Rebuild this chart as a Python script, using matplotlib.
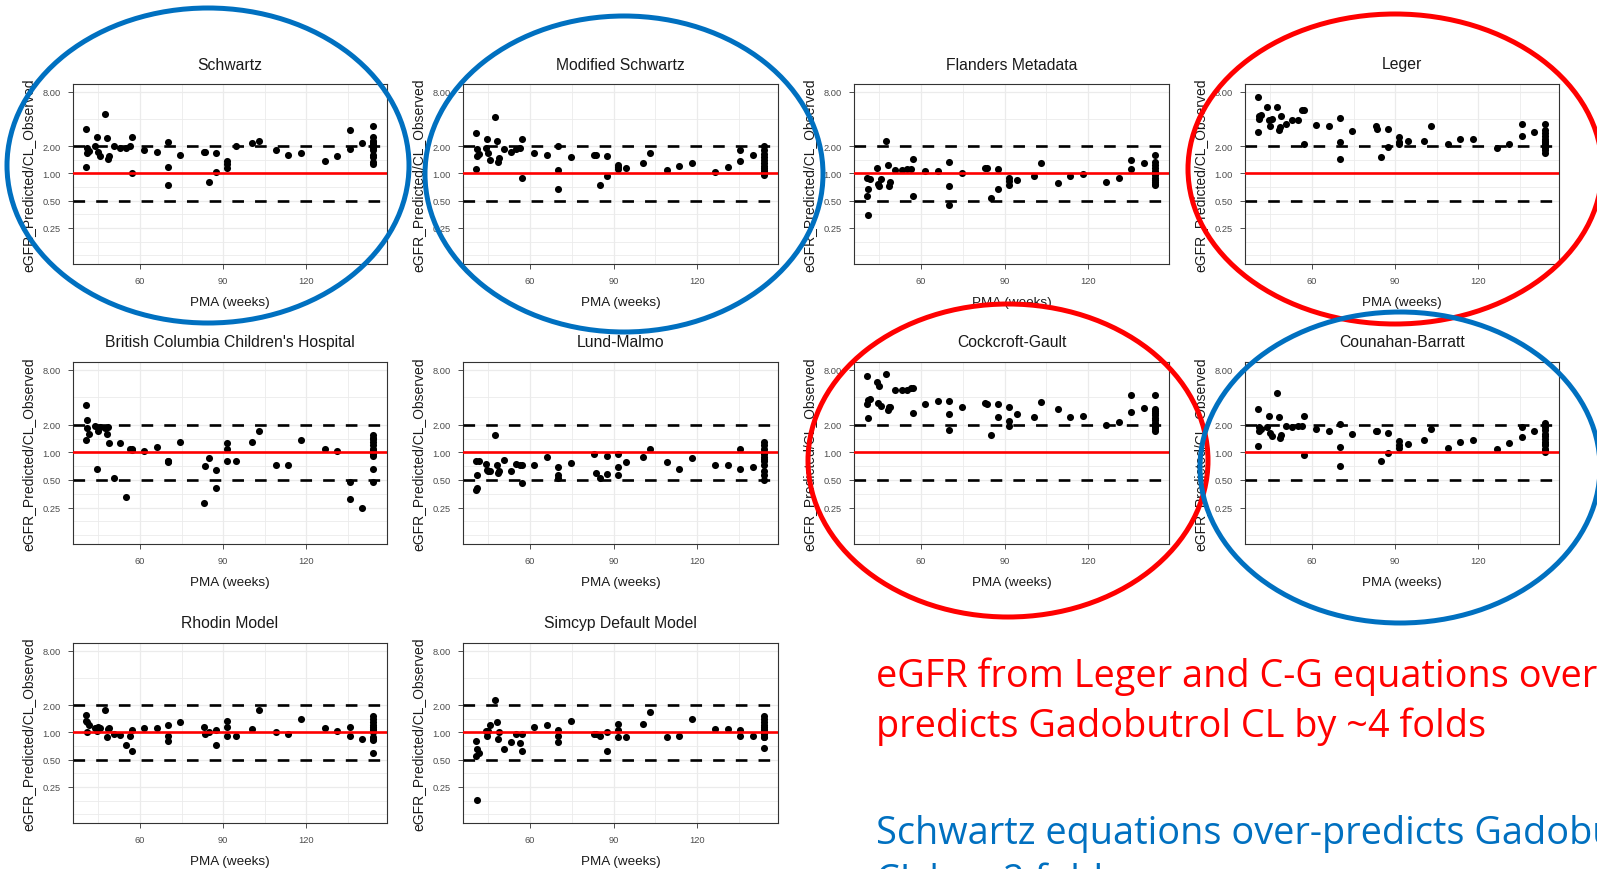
import matplotlib.pyplot as plt
from matplotlib.patches import Ellipse
from matplotlib.ticker import FixedLocator, NullFormatter

plt.rcParams['font.family'] = ['Liberation Sans', 'DejaVu Sans']

W, H = 1597, 870

# PMA (weeks) of each subject, shared by all panels
pma = [40.5, 40.5, 41, 41, 41.5,
       44, 44.5, 45, 45.5,
       47.5, 48, 48.5, 49, 50.5,
       53, 55, 56.5, 57, 57,
       61.5, 66, 70, 70, 70, 74.5,
       83, 83.5, 85, 87.5, 87.5,
       91.5, 91.5, 91.5, 94.5,
       100.5, 103, 109, 113.5, 118, 126.5, 131, 135.5, 135.5, 140,
       144, 144, 144, 144, 144, 144, 144, 144, 144, 144, 144, 144]

# eGFR_Predicted / CL_Observed, one list per equation
schwartz = [3.09, 1.19, 1.66, 1.93, 1.75, 2.02, 2.55, 1.71, 1.57,
            4.5, 2.45, 1.44, 1.57, 2.02, 1.9, 1.93, 2.02, 2.55, 1.0,
            1.8, 1.73, 2.2, 1.19, 0.75, 1.6,
            1.73, 1.73, 0.81, 1.66, 1.03, 1.38, 1.16, 1.27, 2.0,
            2.15, 2.3, 1.82, 1.6, 1.66, 1.38, 1.54, 3.05, 1.86, 2.15,
            3.3, 2.5, 2.3, 2.2, 2.1, 2.0, 1.9, 1.8, 1.6, 1.5, 1.35, 1.28]
modified_schwartz = [2.76, 1.12, 1.57, 1.86, 1.62, 1.9, 2.4, 1.66, 1.4,
                     4.15, 2.3, 1.35, 1.48, 1.86, 1.73, 1.88, 1.9, 2.4, 0.88,
                     1.66, 1.6, 2.0, 1.1, 0.67, 1.5,
                     1.6, 1.6, 0.75, 1.54, 0.94, 1.24, 1.12, 1.18, 1.16,
                     1.29, 1.68, 1.1, 1.22, 1.29, 1.03, 1.19, 1.8, 1.38, 1.6,
                     2.0, 1.8, 1.65, 1.5, 1.4, 1.3, 1.2, 1.15, 1.1, 1.05, 1.0, 0.97]
flanders = [0.88, 0.56, 0.35, 0.67, 0.87, 1.16, 0.76, 0.73, 0.87,
            2.3, 1.24, 0.73, 0.81, 1.09, 1.09, 1.12, 1.12, 1.44, 0.56,
            1.07, 1.07, 1.35, 0.73, 0.45, 1.01,
            1.16, 1.16, 0.53, 1.12, 0.67, 0.9, 0.75, 0.82, 0.85,
            0.94, 1.29, 0.78, 0.94, 0.98, 0.81, 0.9, 1.4, 1.12, 1.29,
            1.6, 1.35, 1.25, 1.15, 1.05, 1.0, 0.95, 0.9, 0.85, 0.8, 0.77, 0.74]
leger = [6.9, 2.84, 3.98, 4.25, 4.4, 5.4, 3.84, 3.3, 4.0,
         5.4, 3.0, 3.22, 4.3, 3.5, 3.9, 3.9, 5.0, 5.0, 2.1,
         3.45, 3.3, 4.05, 2.2, 1.44, 2.95,
         3.3, 3.08, 1.5, 3.1, 1.94, 2.55, 2.1, 2.2, 2.3,
         2.3, 3.36, 2.1, 2.4, 2.4, 1.9, 2.1, 3.5, 2.56, 2.88,
         3.5, 3.0, 2.8, 2.6, 2.4, 2.3, 2.2, 2.1, 2.0, 1.9, 1.8, 1.7]
bcch = [3.3, 1.36, 1.86, 2.23, 1.6, 1.94, 0.66, 1.71, 1.9,
        1.86, 1.6, 1.9, 1.27, 0.52, 1.27, 0.33, 1.09, 1.09, 1.05,
        1.03, 1.14, 0.81, 0.78, 0.8, 1.3,
        0.28, 0.71, 0.87, 0.65, 0.41, 1.27, 1.09, 0.8, 0.8,
        1.3, 1.71, 0.73, 0.73, 1.36, 1.1, 1.03, 0.47, 0.31, 0.25,
        1.55, 1.45, 1.4, 1.3, 1.2, 1.1, 1.05, 1.0, 0.95, 0.92, 0.66, 0.48]
lund_malmo = [0.8, 0.39, 0.41, 0.57, 0.8, 0.75, 0.65, 0.62, 0.62,
              1.53, 0.72, 0.6, 0.62, 0.83, 0.62, 0.75, 0.72, 0.46, 0.72,
              0.72, 0.9, 0.7, 0.57, 0.52, 0.76,
              0.96, 0.6, 0.52, 0.92, 0.58, 0.96, 0.7, 0.57, 0.78,
              0.9, 1.1, 0.78, 0.66, 0.87, 0.72, 0.72, 1.1, 0.66, 0.7,
              1.3, 1.2, 1.1, 1.0, 0.95, 0.9, 0.85, 0.8, 0.72, 0.62, 0.56, 0.5]
cockcroft_gault = [6.74, 3.36, 3.7, 2.4, 3.82, 5.84, 3.5, 5.37, 3.22,
                   7.1, 2.88, 3.14, 3.14, 4.8, 4.8, 4.8, 5.0, 5.0, 2.67,
                   3.36, 3.66, 3.66, 2.61, 1.75, 3.14,
                   3.5, 3.36, 1.53, 3.36, 2.44, 3.14, 2.2, 1.94, 2.61,
                   2.44, 3.56, 2.96, 2.44, 2.5, 1.99, 2.16, 4.27, 2.79, 3.09,
                   4.27, 3.0, 2.85, 2.7, 2.55, 2.4, 2.25, 2.1, 2.0, 1.9, 1.8, 1.7]
counahan_barratt = [2.96, 1.18, 1.71, 1.9, 1.8, 1.9, 2.5, 1.63, 1.5,
                    4.5, 2.44, 1.42, 1.53, 1.94, 1.9, 1.94, 1.94, 2.5, 0.93,
                    1.78, 1.71, 2.06, 1.14, 0.71, 1.57,
                    1.71, 1.71, 0.8, 1.63, 0.98, 1.32, 1.12, 1.2, 1.22,
                    1.36, 1.82, 1.12, 1.3, 1.36, 1.09, 1.27, 1.9, 1.48, 1.71,
                    2.1, 1.9, 1.75, 1.6, 1.5, 1.4, 1.3, 1.25, 1.2, 1.1, 1.05, 1.0]
rhodin = [1.57, 1.35, 1.0, 1.29, 1.2, 1.12, 1.03, 1.15, 1.12,
          1.77, 0.88, 1.09, 1.12, 0.96, 0.94, 0.73, 0.92, 1.07, 0.63,
          1.12, 1.12, 1.22, 0.92, 0.8, 1.31,
          1.16, 0.96, 1.0, 1.07, 0.73, 1.35, 1.15, 0.92, 0.92,
          1.09, 1.77, 1.0, 0.96, 1.4, 1.12, 1.04, 1.16, 0.92, 0.84,
          1.5, 1.4, 1.3, 1.2, 1.15, 1.1, 1.05, 1.0, 0.88, 0.84, 0.82, 0.6]
simcyp = [0.8, 0.55, 0.18, 0.65, 0.59, 1.03, 0.92, 1.04, 1.2,
          2.27, 1.31, 0.84, 1.02, 0.65, 0.79, 0.96, 0.76, 0.63, 0.96,
          1.15, 1.2, 1.06, 0.92, 0.79, 1.35,
          0.96, 0.96, 0.92, 1.02, 0.63, 1.24, 1.06, 0.88, 0.88,
          1.24, 1.69, 0.88, 0.92, 1.4, 1.1, 1.09, 1.06, 0.92, 0.92,
          1.53, 1.4, 1.3, 1.2, 1.15, 1.1, 1.05, 1.0, 0.95, 0.9, 0.88, 0.67]

titles = ["Schwartz", "Modified Schwartz", "Flanders Metadata", "Leger",
          "British Columbia Children's Hospital", "Lund-Malmo",
          "Cockcroft-Gault", "Counahan-Barratt",
          "Rhodin Model", "Simcyp Default Model"]
series = [schwartz, modified_schwartz, flanders, leger, bcch, lund_malmo,
          cockcroft_gault, counahan_barratt, rhodin, simcyp]

y_breaks = [0.25, 0.5, 1, 2, 8]
y_labels = ["0.25", "0.50", "1.00", "2.00", "8.00"]
y_minor = [0.125, 0.177, 0.354, 0.707, 1.414, 4]
x_breaks = [60, 90, 120]
x_minor = [45, 75, 105, 135]

# panel boxes in pixels
col_l = [73, 463, 854, 1245]
col_r = [387, 778, 1169, 1559]
row_t = [85, 363, 644]
row_b = [265, 545, 824]

fig = plt.figure(figsize=(W / 100, H / 100), dpi=100)
fig.patch.set_facecolor('white')


def fx(x):
    return x / W


def fy(y):
    return 1 - y / H


for i, (title, vals) in enumerate(zip(titles, series)):
    r, c = divmod(i, 4)
    l, rt, t, b = col_l[c], col_r[c], row_t[r], row_b[r]
    ax = fig.add_axes([fx(l), fy(b), (rt - l) / W, (b - t) / H])
    ax.scatter(pma, vals, s=26, color='black', linewidths=0, zorder=2)
    ax.axhline(1, color='#FF0000', lw=1.9, zorder=3)
    for lev in (0.5, 2):
        ax.axhline(lev, color='black', lw=1.9, dashes=(4.4, 4.2), zorder=3)
    ax.set_yscale('log')
    ax.set_ylim(0.1, 9.7)
    ax.set_xlim(35.9, 149)
    ax.yaxis.set_major_locator(FixedLocator(y_breaks))
    ax.set_yticklabels(y_labels)
    ax.yaxis.set_minor_locator(FixedLocator(y_minor))
    ax.yaxis.set_minor_formatter(NullFormatter())
    ax.set_xticks(x_breaks)
    ax.set_xticks(x_minor, minor=True)
    ax.grid(which='major', color='#EBEBEB', lw=0.9)
    ax.grid(which='minor', color='#EBEBEB', lw=0.6)
    ax.set_axisbelow(True)
    ax.tick_params(which='minor', length=0)
    ax.tick_params(which='major', length=3.5, width=0.6, color='#333333',
                   labelsize=6.7, labelcolor='#4D4D4D')
    ax.tick_params(axis='x', pad=5.5)
    ax.tick_params(axis='y', pad=5.3)
    for sp in ax.spines.values():
        sp.set_color('#333333')
        sp.set_linewidth(0.8)
    fig.text(fx((l + rt) / 2), fy(t - 20), title, ha='center', va='center',
             fontsize=11.3, color='#1A1A1A')
    fig.text(fx((l + rt) / 2), fy(b + 38), "PMA (weeks)", ha='center',
             va='center', fontsize=9.7, color='#1A1A1A')
    fig.text(fx(l - 45), fy((t + b) / 2), "eGFR_Predicted/CL_Observed",
             ha='center', va='center', rotation=90, fontsize=10,
             color='#1A1A1A')

# overlay for highlight ellipses and notes
ov = fig.add_axes([0, 0, 1, 1], zorder=10)
ov.set_xlim(0, W)
ov.set_ylim(H, 0)
ov.axis('off')
ov.patch.set_alpha(0)

blue = '#0070C0'
red = '#FF0000'
ellipses = [((208, 166.5), 201, 157.5, blue),
            ((624, 175), 199, 158, blue),
            ((1395, 170), 207, 155, red),
            ((1008, 461.5), 200, 156.5, red),
            ((1400, 468.5), 200, 155.5, blue)]
for (cx, cy), hw, hh, col in ellipses:
    ov.add_patch(Ellipse((cx, cy), 2 * hw, 2 * hh, fill=False, ec=col, lw=3.6))

note_font = ['Open Sans', 'DejaVu Sans']
note_size = 27.3
ov.text(876, 687, "eGFR from Leger and C-G equations over-", color=red,
        fontsize=note_size, family=note_font, va='baseline')
ov.text(876, 737, "predicts Gadobutrol CL by ~4 folds", color=red,
        fontsize=note_size, family=note_font, va='baseline')
ov.text(876, 844, "Schwartz equations over-predicts Gadobutrol", color=blue,
        fontsize=note_size, family=note_font, va='baseline')
ov.text(876, 892, "CL by ~2 folds", color=blue,
        fontsize=note_size, family=note_font, va='baseline')

fig.savefig('out.png', dpi=100)
